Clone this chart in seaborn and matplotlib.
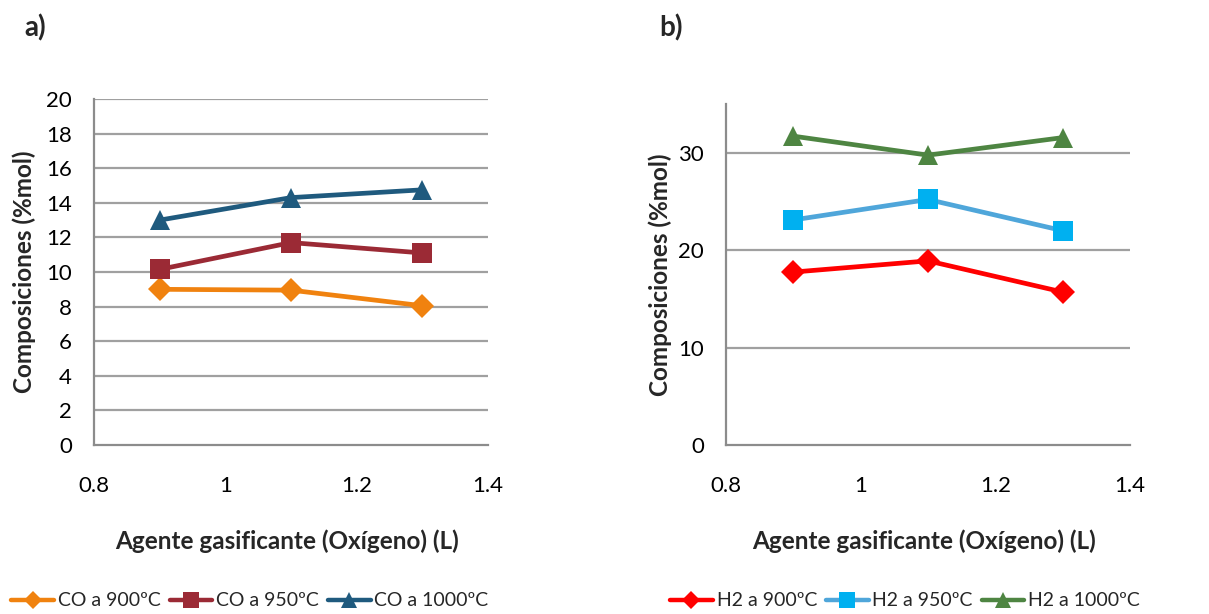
import matplotlib
matplotlib.use("Agg")
import matplotlib.pyplot as plt
import seaborn as sns
import pandas as pd
from matplotlib.lines import Line2D

# ---- data ----
oxygen = [0.9, 1.1, 1.3]
co_900 = [9.0, 8.95, 8.05]
co_950 = [10.15, 11.7, 11.1]
co_1000 = [13.0, 14.3, 14.75]
h2_900 = [17.75, 18.9, 15.7]
h2_950 = [23.1, 25.2, 22.0]
h2_1000 = [31.7, 29.75, 31.55]

co_labels = ["CO a 900ºC", "CO a 950ºC", "CO a 1000ºC"]
h2_labels = ["H2 a 900ºC", "H2 a 950ºC", "H2 a 1000ºC"]
x_ticks = [0.8, 1.0, 1.2, 1.4]
x_ticklabels = ["0.8", "1", "1.2", "1.4"]
yticks_a = [0, 2, 4, 6, 8, 10, 12, 14, 16, 18, 20]
yticks_b = [0, 10, 20, 30]

sns.set_theme(style="white")
plt.rcParams['font.family'] = ['Lato', 'DejaVu Sans']

fig = plt.figure(figsize=(12.09, 6.14), dpi=100)
W, H = 1209, 614
ax1 = fig.add_axes([94/W, 1-445/H, (488-94)/W, (445-99)/H])
ax2 = fig.add_axes([726/W, 1-445/H, (1130-726)/W, (445-104)/H])

grid_c = "#A0A0A0"
spine_c = "#8C8C8C"

styles_a = [
    dict(color="#F0820F", marker="D", mfc="#F0820F", mec="#F0820F", ms=12),
    dict(color="#9B2A35", marker="s", mfc="#9B2A35", mec="#9B2A35", ms=14),
    dict(color="#1F5A7E", marker="^", mfc="#1F5A7E", mec="#1F5A7E", ms=15),
]
styles_b = [
    dict(color="#FF0000", marker="D", mfc="#FF0000", mec="#FF0000", ms=12),
    dict(color="#4FA6DA", marker="s", mfc="#00B0F0", mec="#00B0F0", ms=14),
    dict(color="#4E8542", marker="^", mfc="#4E8542", mec="#4E8542", ms=15),
]

def draw(ax, series, labels, styles):
    for y, lab, st in zip(series, labels, styles):
        df = pd.DataFrame({"x": oxygen, "y": y})
        sns.lineplot(data=df, x="x", y="y", ax=ax, color=st["color"], lw=3.4,
                     marker=st["marker"], markersize=st["ms"],
                     markerfacecolor=st["mfc"], markeredgecolor=st["mec"],
                     markeredgewidth=0, label=lab, legend=False, zorder=3)

draw(ax1, [co_900, co_950, co_1000], co_labels, styles_a)
draw(ax2, [h2_900, h2_950, h2_1000], h2_labels, styles_b)

for ax, yt, ylim in [(ax1, yticks_a, (0, 20)), (ax2, yticks_b, (0, 35))]:
    ax.set_xlim(0.8, 1.4)
    ax.set_ylim(*ylim)
    ax.set_xticks(x_ticks)
    ax.set_xticklabels(x_ticklabels)
    ax.set_yticks(yt)
    ax.set_yticklabels([str(v) for v in yt])
    ax.tick_params(axis="both", length=0, labelsize=16, colors="#000000")
    ax.tick_params(axis="x", pad=22)
    ax.tick_params(axis="y", pad=16)
    for t in yt:
        if t != 0:
            ax.axhline(t, color=grid_c, lw=1.6, zorder=1)
    for s in ["top", "right"]:
        ax.spines[s].set_visible(False)
    for s in ["left", "bottom"]:
        ax.spines[s].set_color(spine_c)
        ax.spines[s].set_linewidth(1.6)
    ax.set_xlabel("Agente gasificante (Oxígeno) (L)", fontsize=17.5, fontweight="bold")
    ax.set_ylabel("Composiciones (%mol)", fontsize=17.5, fontweight="bold")
    ax.xaxis.label.set_va("center")
    ax.yaxis.label.set_va("center")

ax1.xaxis.set_label_coords(0.49, -(541-445)/346)
ax2.xaxis.set_label_coords(0.49, -(541-445)/341)
ax1.yaxis.set_label_coords(-70/394, 0.5)
ax2.yaxis.set_label_coords(-66/404, 0.5)

fig.text(24/W, 1-28/H, "a)", fontsize=20, fontweight="bold", va="center", ha="left")
fig.text(659/W, 1-28/H, "b)", fontsize=20, fontweight="bold", va="center", ha="left")

def handles(styles, labels):
    hs = []
    for st, lab in zip(styles, labels):
        hs.append(Line2D([0], [0], color=st["color"], lw=3.2, marker=st["marker"],
                         markersize=st["ms"]*0.8, markerfacecolor=st["mfc"],
                         markeredgecolor=st["mec"], markeredgewidth=0, label=lab))
    return hs

leg_kw = dict(loc="center", ncol=3, frameon=False, fontsize=14, numpoints=1,
              handlelength=2.2, handletextpad=0.2, columnspacing=0.45, borderaxespad=0,
              borderpad=0)
fig.legend(handles=handles(styles_a, co_labels), bbox_to_anchor=(250/W, 1-601/H), **leg_kw)
fig.legend(handles=handles(styles_b, h2_labels), bbox_to_anchor=(905/W, 1-601/H), **leg_kw)

fig.savefig("out.png", dpi=100)
